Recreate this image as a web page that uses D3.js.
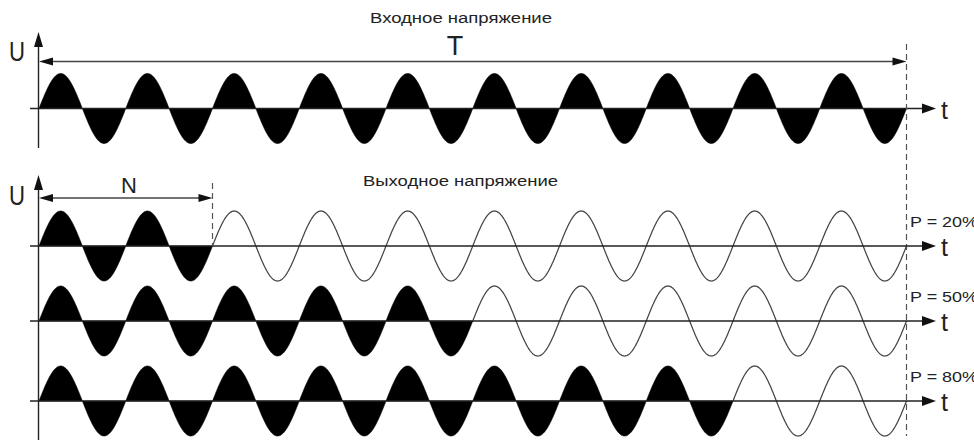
<!DOCTYPE html>
<html>
<head>
<meta charset="utf-8">
<script src="https://cdn.jsdelivr.net/npm/d3@7"></script>
<style>
  body { margin: 0; background: #fff; }
  svg { display: block; font-family: Arial, "Liberation Sans", sans-serif; }
</style>
</head>
<body>
<svg id="chart" width="974" height="443"></svg>
<script>
// data
const totalCycles = 10
const filledCycles = [2, 5, 8]
const percentLabels = ['P = 20%', 'P = 50%', 'P = 80%']
const titles = ['Входное напряжение', 'Выходное напряжение']

const svg = d3.select('#chart')

const x = d3.scaleLinear().domain([0, totalCycles]).range([39, 906.5])
const amp = 35

// baselines: input row, then the three output rows
const inputBase = 108.5
const outBases = [246, 321, 401]

function yScale (base) {
  return d3.scaleLinear().domain([-1, 1]).range([base + amp, base - amp])
}

function samples (from, to) {
  const pts = d3.range(from, to, 0.005)
  pts.push(to)
  return pts
}

function arrowHead (px, py, dir, len, half) {
  let pts
  if (dir === 'r') pts = [[px, py], [px - len, py - half], [px - len, py + half]]
  if (dir === 'l') pts = [[px, py], [px + len, py - half], [px + len, py + half]]
  if (dir === 'u') pts = [[px, py], [px - half, py + len], [px + half, py + len]]
  svg.append('path')
    .attr('d', 'M' + pts.map(p => p.join(',')).join('L') + 'Z')
    .attr('fill', '#111')
}

function drawRow (base, filled) {
  const y = yScale(base)
  const g = svg.append('g')

  if (filled > 0) {
    const area = d3.area()
      .x(t => x(t))
      .y0(y(0))
      .y1(t => y(Math.sin(2 * Math.PI * t)))
    g.append('path')
      .attr('d', area(samples(0, filled)))
      .attr('fill', '#000')
      .attr('stroke', '#000')
      .attr('stroke-width', 0.6)
  }
  if (filled < totalCycles) {
    const line = d3.line()
      .x(t => x(t))
      .y(t => y(Math.sin(2 * Math.PI * t)))
    g.append('path')
      .attr('d', line(samples(filled, totalCycles)))
      .attr('fill', 'none')
      .attr('stroke', '#444')
      .attr('stroke-width', 1.25)
  }

  // time axis
  g.append('line')
    .attr('x1', 30).attr('x2', 925)
    .attr('y1', y(0)).attr('y2', y(0))
    .attr('stroke', '#222')
    .attr('stroke-width', 1.4)
  arrowHead(936, y(0), 'r', 14, 5)
  g.append('text')
    .attr('x', 941).attr('y', y(0) + 10)
    .attr('font-size', 25)
    .attr('fill', '#222')
    .text('t')
}

// input voltage
svg.append('text')
  .attr('x', 370).attr('y', 23)
  .attr('font-size', 15.5)
  .attr('fill', '#222')
  .attr('textLength', 182)
  .attr('lengthAdjust', 'spacingAndGlyphs')
  .text(titles[0])

drawRow(inputBase, totalCycles)

svg.append('line')
  .attr('x1', x(0) - 0.5).attr('x2', x(0) - 0.5)
  .attr('y1', 44).attr('y2', 148)
  .attr('stroke', '#222').attr('stroke-width', 1.4)
arrowHead(x(0) - 0.5, 32, 'u', 15, 4.5)
svg.append('text')
  .attr('x', 9).attr('y', 61)
  .attr('font-size', 27)
  .attr('fill', '#222')
  .attr('textLength', 16)
  .attr('lengthAdjust', 'spacingAndGlyphs')
  .text('U')

// T span
svg.append('line')
  .attr('x1', x(0) + 10).attr('x2', x(totalCycles) - 10)
  .attr('y1', 61.5).attr('y2', 61.5)
  .attr('stroke', '#444').attr('stroke-width', 1.3)
arrowHead(x(0), 61.5, 'l', 14, 4)
arrowHead(x(totalCycles), 61.5, 'r', 14, 4)
svg.append('text')
  .attr('x', 455).attr('y', 55)
  .attr('text-anchor', 'middle')
  .attr('font-size', 27)
  .attr('fill', '#222')
  .text('T')

// dashed end marker
svg.append('line')
  .attr('x1', x(totalCycles)).attr('x2', x(totalCycles))
  .attr('y1', 44).attr('y2', 436)
  .attr('stroke', '#555').attr('stroke-width', 1.2)
  .attr('stroke-dasharray', '6,4')

// output voltage
svg.append('text')
  .attr('x', 363).attr('y', 186)
  .attr('font-size', 15.5)
  .attr('fill', '#222')
  .attr('textLength', 195)
  .attr('lengthAdjust', 'spacingAndGlyphs')
  .text(titles[1])

percentLabels.forEach((label, i) => {
  const base = outBases[i]
  drawRow(base, filledCycles[i])
  svg.append('text')
    .attr('x', 910).attr('y', base - 19)
    .attr('font-size', 15)
    .attr('fill', '#222')
    .attr('textLength', 68)
    .attr('lengthAdjust', 'spacingAndGlyphs')
    .text(label)
})

svg.append('line')
  .attr('x1', x(0) - 0.5).attr('x2', x(0) - 0.5)
  .attr('y1', 186).attr('y2', 440)
  .attr('stroke', '#222').attr('stroke-width', 1.4)
arrowHead(x(0) - 0.5, 175, 'u', 15, 4.5)
svg.append('text')
  .attr('x', 9).attr('y', 205)
  .attr('font-size', 27)
  .attr('fill', '#222')
  .attr('textLength', 16)
  .attr('lengthAdjust', 'spacingAndGlyphs')
  .text('U')

// N span
const nEnd = x(filledCycles[0])
svg.append('line')
  .attr('x1', x(0) + 10).attr('x2', nEnd - 10)
  .attr('y1', 198).attr('y2', 198)
  .attr('stroke', '#444').attr('stroke-width', 1.3)
arrowHead(x(0), 198, 'l', 14, 4)
arrowHead(nEnd, 198, 'r', 14, 4)
svg.append('line')
  .attr('x1', nEnd).attr('x2', nEnd)
  .attr('y1', 183).attr('y2', outBases[0])
  .attr('stroke', '#555').attr('stroke-width', 1.2)
  .attr('stroke-dasharray', '6,4')
svg.append('text')
  .attr('x', 129).attr('y', 193)
  .attr('text-anchor', 'middle')
  .attr('font-size', 22)
  .attr('fill', '#222')
  .text('N')
</script>
</body>
</html>
